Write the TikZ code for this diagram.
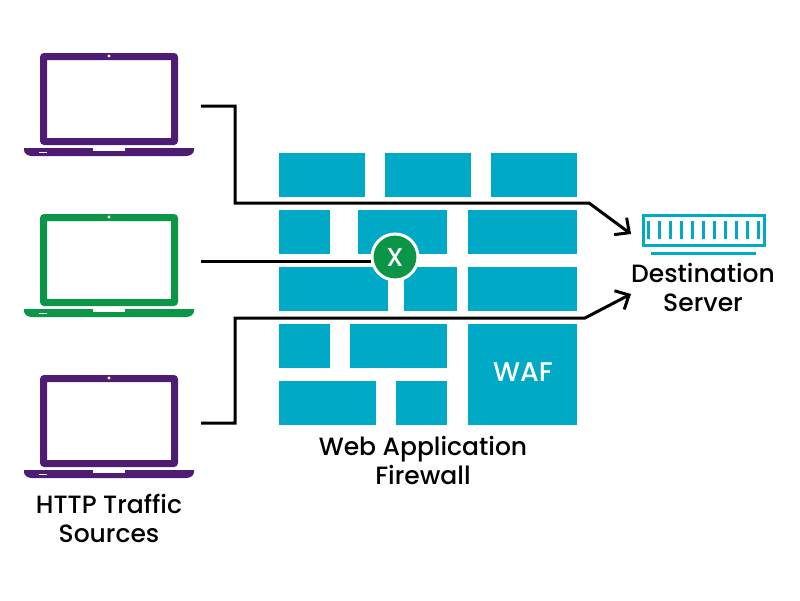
\documentclass[tikz,border=0pt]{standalone}
\usepackage{fontspec}
\setmainfont{Poppins Medium}
\usetikzlibrary{arrows.meta}
\definecolor{lapviolet}{HTML}{4F1C73}
\definecolor{lapgreen}{HTML}{0B9647}
\definecolor{wallteal}{HTML}{00A9C6}
\tikzset{
  pics/laptop/.style={code={
    \path[pic actions, even odd rule, rounded corners=4] (40,53) rectangle (178,145)
      [sharp corners] (47,60) rectangle (171,138);
    \path[pic actions] (24,148)--(194,148)--(194,150) to[out=-90,in=0] (186,156)--(32,156) to[out=180,in=-90] (24,150)--cycle;
    \fill[white] (93,148) rectangle (125,151);
    \fill[white] (39,152) rectangle (47,153);
    \fill[white] (109,56) circle (1.7);
  }},
  brick/.style={fill=wallteal},
  link/.style={line width=3, black},
  linkarrow/.style={link, -{Straight Barb[length=11,width=21,line width=3]}},
  lab/.style={font=\fontsize{25}{29}\selectfont, align=center, text=black, inner sep=0},
}
\begin{document}
\begin{tikzpicture}[x=1pt,y=-1pt]
\useasboundingbox (0,0) rectangle (800,600);
\pic[fill=lapviolet] at (0,0) {laptop};
\pic[fill=lapgreen] at (0,161) {laptop};
\pic[fill=lapviolet] at (0,322) {laptop};
% wall
\foreach \xa/\ya/\xb/\yb in {279/153/365/197,385/153/471/197,491/153/577/197,
  279/210/330/254,358/210/447/254,468/210/577/254,
  279/267/388/311,404/267/457/311,468/267/577/311,
  279/324/330/368,350/324/447/368,468/324/577/425,
  279/381/376/425,396/381/447/425}
  \fill[brick] (\xa,\ya) rectangle (\xb,\yb);
\node[text=white, font=\fontsize{27}{29}\selectfont, inner sep=0] (waf) at (523,372) {WAF};
% server
\draw[wallteal, line width=3] (643.5,215.5) rectangle (764.5,245.5);
\foreach \x in {648,659,...,758}
  \draw[wallteal, line width=3] (\x,221)--(\x,239);
\draw[wallteal, line width=3] (651,253)--(756,253);
% links
\node[circle, fill=lapgreen, draw=white, line width=3, minimum size=46, inner sep=0, text=white,
  font=\fontsize{26}{29}\selectfont] (block) at (395,257) {X};
\coordinate (srca) at (201,106);
\coordinate (srcb) at (201,261);
\coordinate (srcc) at (201,423);
\coordinate (enda) at (631,234);
\coordinate (endc) at (631,294);
\draw[linkarrow] (srca)--(235,106)--(235,203)--(589,203)--(enda);
\draw[link] (srcb)--(block.west |- srcb);
\draw[linkarrow] (srcc)--(235,423)--(235,318)--(585,318)--(endc);
% labels
\node[lab] (srclab) at (109,518) {HTTP Traffic\\Sources};
\node[lab] (wallab) at (423,460) {Web Application\\Firewall};
\node[lab] (srvlab) at (703,287) {Destination\\Server};
\end{tikzpicture}
\end{document}
